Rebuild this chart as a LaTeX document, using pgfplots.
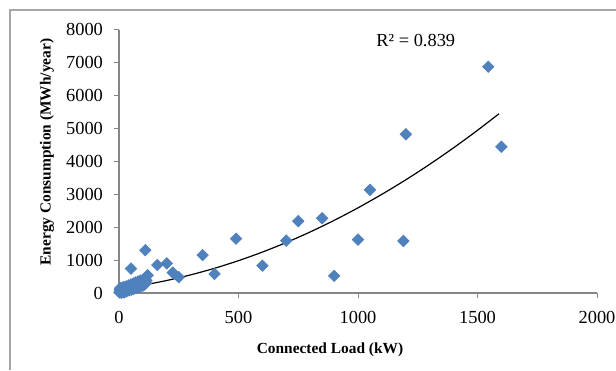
\documentclass[border=0pt]{standalone}
\usepackage{pgfplots}
\pgfplotsset{compat=1.18}
\usepackage{fontspec}
\setmainfont{Liberation Serif}
\definecolor{exblue}{HTML}{4F81BD}
\definecolor{framegray}{HTML}{A6A6A6}
\definecolor{axgray}{HTML}{868686}
\begin{document}
\begin{tikzpicture}
\useasboundingbox (0,0) rectangle (308pt,185pt);
\draw[framegray, line width=0.8pt] (5pt,0pt) -- (5pt,180pt) -- (308pt,180pt);
\begin{axis}[
  at={(59.5pt,38.5pt)}, anchor=south west,
  scale only axis, width=239pt, height=131.75pt,
  xmin=0, xmax=2000, ymin=0, ymax=8000,
  axis x line*=bottom, axis y line*=left,
  axis line style={axgray, line width=0.6pt, -},
  xtick={0,500,1000,1500,2000},
  ytick={0,1000,2000,3000,4000,5000,6000,7000,8000},
  tick align=outside, major tick length=2.5pt,
  tick style={axgray, line width=0.5pt},
  ticklabel style={font=\fontsize{9.2}{11}\selectfont, black},
  /pgf/number format/assume math mode=true,
  /pgf/number format/1000 sep={},
  yticklabel style={xshift=-2pt},
  xticklabel style={yshift=-3pt},
  clip=false,
]
\addplot[only marks, mark=square*, mark size=2.0pt,
  mark options={rotate=45, fill=exblue, draw=exblue}] coordinates {
(2,20)(3,60)(4,110)(5,150)(6,40)(8,90)(10,130)(10,10)(12,70)(14,160)
(15,30)(18,110)(20,180)(20,60)(22,20)(25,140)(28,90)(30,200)(32,50)(35,160)
(38,110)(40,230)(42,80)(45,180)(48,130)(50,260)(52,100)(55,210)(58,160)(60,290)
(62,130)(65,240)(68,190)(70,320)(72,150)(75,260)(78,210)(80,350)(83,180)(85,290)
(88,240)(90,380)(92,200)(95,320)(98,260)(100,400)(102,230)(105,340)(108,280)(110,420)
(112,300)(115,380)
(120,540)(50,740)(110,1300)(160,850)(200,900)(225,620)(250,480)
(350,1150)(400,580)(490,1650)(600,830)(700,1590)(750,2180)(850,2270)
(900,520)(1000,1620)(1050,3130)(1190,1580)(1200,4820)(1545,6870)(1600,4440)
};
\addplot[black, line width=0.6pt, smooth] coordinates {
(10,138)(100,239)(200,380)(300,551)(400,751)(500,982)(600,1243)(700,1533)
(800,1854)(900,2205)(1000,2586)(1100,2997)(1200,3437)(1300,3908)(1400,4409)
(1500,4940)(1590,5443)
};
\end{axis}
\node[font=\fontsize{9.2}{11}\selectfont, anchor=west, inner sep=0pt] at (188pt,164.5pt) {R² = 0.839};
\node[font=\fontsize{7.7}{9}\selectfont\bfseries, rotate=90] at (23.5pt,109pt) {Energy Consumption (MWh/year)};
\node[font=\fontsize{7.7}{9}\selectfont\bfseries] at (165pt,10pt) {Connected Load (kW)};
\end{tikzpicture}
\end{document}
